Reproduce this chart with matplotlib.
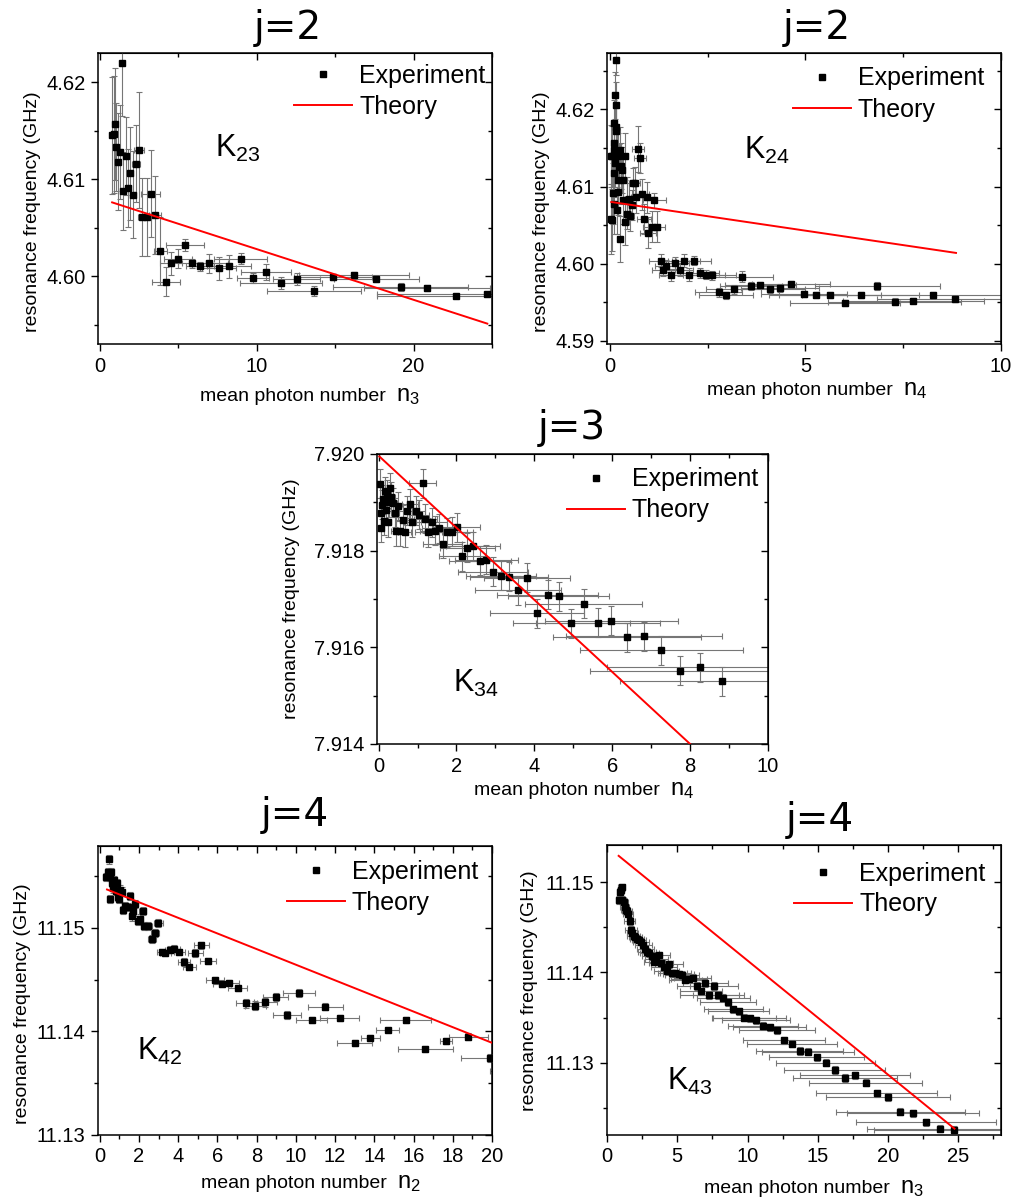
import matplotlib
matplotlib.use('Agg')
import matplotlib.pyplot as plt
from matplotlib.ticker import MultipleLocator, FormatStrFormatter
from matplotlib.lines import Line2D

plt.rcParams['font.family'] = ['Liberation Sans', 'DejaVu Sans']
plt.rcParams['mathtext.fontset'] = 'custom'
plt.rcParams['mathtext.rm'] = 'Liberation Sans'

W, H = 1015, 1201

# ---- K23 : j=2 vs n3 ----
n23 = [0.81, 0.91, 0.98, 1.06, 1.19, 1.28, 1.40, 1.49, 1.66, 1.79, 1.96, 2.15, 2.32, 2.51,
       2.72, 3.00, 3.26, 3.53, 3.87, 4.21, 4.57, 5.00, 5.43, 5.89, 6.40, 6.98, 7.60, 8.26,
       8.98, 9.77, 10.62, 11.55, 12.57, 13.68, 14.87, 16.19, 17.62, 19.19, 20.85, 22.68, 24.68]
f23 = [4.6145, 4.6146, 4.6157, 4.6133, 4.6118, 4.6128, 4.6220, 4.6088, 4.6124, 4.6091,
       4.6106, 4.6084, 4.6116, 4.6130, 4.6061, 4.6061, 4.6085, 4.6063, 4.6026, 4.5994,
       4.6013, 4.6018, 4.6032, 4.6013, 4.6010, 4.6013, 4.6008, 4.6010, 4.6018, 4.5998,
       4.6004, 4.5993, 4.5997, 4.5985, 4.5999, 4.6001, 4.5997, 4.5989, 4.5988, 4.5979, 4.5982]
dn23 = [0.05, 0.05, 0.06, 0.07, 0.08, 0.1, 0.1, 0.1, 0.15, 0.2, 0.2, 0.2, 0.25, 0.3, 0.3,
        0.3, 0.6, 0.4, 0.4, 0.9, 0.7, 0.9, 1.2, 0.9, 0.9, 1.2, 1.1, 1.4, 1.7, 1.0, 1.6, 2.6,
        1.5, 3.0, 2.5, 3.5, 2.7, 4.3, 4.0, 5.0, 7.0]
df23 = [0.0060, 0.0060, 0.0058, 0.0045, 0.0050, 0.0048, 0.0055, 0.0040, 0.0040, 0.0040,
        0.0048, 0.0045, 0.0040, 0.0060, 0.0040, 0.0040, 0.0045, 0.0040, 0.0035, 0.0015,
        0.0012, 0.0010, 0.0006, 0.0005, 0.0005, 0.0010, 0.0012, 0.0012, 0.0006, 0.0005,
        0.0008, 0.0006, 0.0006, 0.0005, 0.0003, 0.0003, 0.0003, 0.0004, 0.0003, 0.0002, 0.0002]
n23_th = [0.8, 24.7]
f23_th = [4.6076, 4.5951]

# ---- K24 : j=2 vs n4 ----
n24 = [0.03, 0.04, 0.07, 0.07, 0.09, 0.10, 0.11, 0.11, 0.12, 0.12, 0.13, 0.13, 0.15, 0.15,
       0.16, 0.17, 0.19, 0.19, 0.21, 0.22, 0.22, 0.24, 0.26, 0.26, 0.30, 0.32, 0.33, 0.34,
       0.38, 0.40, 0.43, 0.45, 0.49, 0.51, 0.56, 0.60, 0.64, 0.68, 0.73, 0.77, 0.83, 0.88,
       0.94, 0.98, 1.07, 1.14, 1.20, 1.30, 1.37, 1.45, 1.56, 1.67, 1.79, 1.90, 2.03, 2.15,
       2.30, 2.45, 2.62, 2.79, 2.97, 3.17, 3.38, 3.61, 3.85, 4.09, 4.36, 4.64, 4.96, 5.28,
       5.63, 6.01, 6.41, 6.84, 7.28, 7.76, 8.27, 8.82]
f24 = [4.6058, 4.6140, 4.6057, 4.6139, 4.6091, 4.6078, 4.6147, 4.6182, 4.6117, 4.6156,
       4.6218, 4.6130, 4.6264, 4.6206, 4.6177, 4.6172, 4.6145, 4.6069, 4.6093, 4.6139,
       4.6108, 4.6125, 4.6147, 4.6032, 4.6127, 4.6121, 4.6082, 4.6108, 4.6139, 4.6054,
       4.6082, 4.6065, 4.6084, 4.6062, 4.6076, 4.6104, 4.6105, 4.6086, 4.6149, 4.6137,
       4.6090, 4.6058, 4.6086, 4.6040, 4.6048, 4.6082, 4.6048, 4.6004, 4.5992, 4.5997,
       4.5985, 4.6001, 4.5992, 4.6004, 4.5986, 4.6004, 4.5988, 4.5986, 4.5985, 4.5963,
       4.5959, 4.5967, 4.5983, 4.5971, 4.5972, 4.5967, 4.5969, 4.5974, 4.5961, 4.5960,
       4.5959, 4.5949, 4.5960, 4.5971, 4.5951, 4.5952, 4.5960, 4.5954]
dn24 = [0.02, 0.02, 0.02, 0.02, 0.03, 0.03, 0.03, 0.03, 0.03, 0.03, 0.03, 0.03, 0.03, 0.03,
        0.03, 0.04, 0.04, 0.04, 0.04, 0.04, 0.04, 0.05, 0.05, 0.05, 0.06, 0.06, 0.07, 0.07,
        0.08, 0.08, 0.09, 0.09, 0.10, 0.10, 0.11, 0.12, 0.13, 0.14, 0.15, 0.16, 0.17, 0.18,
        0.19, 0.20, 0.21, 0.30, 0.20, 0.30, 0.30, 0.30, 0.30, 0.35, 0.35, 0.40, 0.45, 0.45,
        0.50, 0.50, 0.60, 0.60, 0.70, 0.70, 0.80, 0.80, 0.90, 0.90, 1.0, 1.0, 1.1, 1.2,
        1.3, 1.4, 1.5, 1.6, 1.7, 1.8, 1.9, 2.0]
df24 = [0.0045, 0.0040, 0.0040, 0.0040, 0.0040, 0.0040, 0.0030, 0.0030, 0.0030, 0.0030,
        0.0030, 0.0030, 0.0020, 0.0030, 0.0030, 0.0030, 0.0030, 0.0030, 0.0030, 0.0030,
        0.0030, 0.0030, 0.0030, 0.0030, 0.0030, 0.0030, 0.0030, 0.0030, 0.0030, 0.0030,
        0.0030, 0.0020, 0.0020, 0.0020, 0.0020, 0.0020, 0.0020, 0.0020, 0.0030, 0.0020,
        0.0020, 0.0020, 0.0020, 0.0020, 0.0020, 0.0010, 0.0020, 0.0008, 0.0008, 0.0008,
        0.0008, 0.0008, 0.0008, 0.0008, 0.0008, 0.0006, 0.0006, 0.0006, 0.0006, 0.0006,
        0.0005, 0.0006, 0.0007, 0.0005, 0.0004, 0.0005, 0.0005, 0.0004, 0.0004, 0.0004,
        0.0004, 0.0004, 0.0004, 0.0005, 0.0004, 0.0003, 0.0004, 0.0004]
n24_th = [0.04, 8.85]
f24_th = [4.6080, 4.6014]

# ---- K34 : j=3 vs n4 ----
n34 = [0.03, 0.05, 0.06, 0.09, 0.12, 0.14, 0.16, 0.19, 0.21, 0.25, 0.27, 0.29, 0.33, 0.38,
       0.42, 0.45, 0.51, 0.55, 0.62, 0.67, 0.72, 0.81, 0.87, 0.95, 1.04, 1.13, 1.20, 1.28,
       1.37, 1.46, 1.56, 1.65, 1.77, 1.88, 2.01, 2.14, 2.28, 2.43, 2.60, 2.77, 2.95, 3.15,
       3.36, 3.58, 3.81, 4.07, 4.34, 4.63, 4.95, 5.27, 5.63, 5.98, 6.38, 6.81, 7.26, 7.74,
       8.26, 8.81]
f34 = [7.91938, 7.91847, 7.91878, 7.91895, 7.91906, 7.91862, 7.91923, 7.91885, 7.91916,
       7.91859, 7.91900, 7.91930, 7.91912, 7.91899, 7.91878, 7.91840, 7.91892, 7.91840,
       7.91864, 7.91838, 7.91883, 7.91897, 7.91859, 7.91883, 7.91874, 7.91939, 7.91866,
       7.91838, 7.91859, 7.91841, 7.91846, 7.91814, 7.91838, 7.91839, 7.91848, 7.91788,
       7.91806, 7.91809, 7.91779, 7.91781, 7.91756, 7.91748, 7.91746, 7.91718, 7.91744,
       7.91671, 7.91709, 7.91706, 7.91650, 7.91690, 7.91651, 7.91655, 7.91621, 7.91623,
       7.91594, 7.91552, 7.91559, 7.91530]
dn34 = [0.02, 0.02, 0.03, 0.03, 0.04, 0.04, 0.05, 0.05, 0.06, 0.07, 0.07, 0.08, 0.09, 0.10,
        0.11, 0.12, 0.13, 0.14, 0.16, 0.17, 0.19, 0.21, 0.22, 0.24, 0.26, 0.35, 0.30, 0.35,
        0.40, 0.40, 0.45, 0.50, 0.50, 0.55, 0.60, 0.60, 0.70, 0.70, 0.80, 0.80, 0.90, 0.90,
        1.0, 1.1, 1.1, 1.2, 1.3, 1.3, 1.5, 1.5, 1.6, 1.7, 1.9, 2.0, 2.1, 2.3, 2.4, 2.6]
df34 = [0.0003] * 58
n34_th = [0.02, 8.0]
f34_th = [7.91995, 7.914]

# ---- K42 : j=4 vs n2 ----
n42 = [0.34, 0.44, 0.49, 0.53, 0.54, 0.58, 0.61, 0.68, 0.75, 0.82, 0.88, 0.93, 0.99, 1.05,
       1.14, 1.21, 1.29, 1.43, 1.53, 1.63, 1.70, 1.82, 1.94, 2.06, 2.18, 2.28, 2.46, 2.65,
       2.82, 2.99, 3.19, 3.35, 3.59, 3.79, 4.06, 4.30, 4.57, 4.88, 5.18, 5.51, 5.86, 6.22,
       6.61, 7.03, 7.48, 7.94, 8.45, 8.97, 9.55, 10.16, 10.81, 11.50, 12.23, 13.00, 13.80,
       14.68, 15.60, 16.60, 17.65, 18.79, 19.92, 20.90]
f42 = [11.1549, 11.1554, 11.1566, 11.1528, 11.1549, 11.1554, 11.1543, 11.1538, 11.1546,
       11.1536, 11.1543, 11.1530, 11.1528, 11.1537, 11.1535, 11.1517, 11.1521, 11.1520,
       11.1531, 11.1511, 11.1516, 11.1523, 11.1507, 11.1509, 11.1516, 11.1502, 11.1502,
       11.1489, 11.1495, 11.1505, 11.1477, 11.1476, 11.1479, 11.1480, 11.1477, 11.1467,
       11.1462, 11.1476, 11.1483, 11.1468, 11.1450, 11.1446, 11.1447, 11.1442, 11.1427,
       11.1425, 11.1428, 11.1433, 11.1416, 11.1437, 11.1411, 11.1424, 11.1413, 11.1389,
       11.1394, 11.1401, 11.1411, 11.1383, 11.1391, 11.1395, 11.1374, 11.1362]
dn42 = [0.05, 0.05, 0.05, 0.05, 0.05, 0.06, 0.06, 0.06, 0.07, 0.07, 0.08, 0.08, 0.08, 0.09,
        0.10, 0.10, 0.11, 0.12, 0.13, 0.13, 0.14, 0.15, 0.16, 0.17, 0.18, 0.18, 0.20, 0.20,
        0.22, 0.23, 0.25, 0.26, 0.28, 0.30, 0.30, 0.32, 0.35, 0.37, 0.40, 0.40, 0.45, 0.45,
        0.50, 0.50, 0.55, 0.55, 0.60, 0.65, 0.70, 0.80, 0.80, 0.90, 1.0, 0.9, 0.5, 0.6,
        1.3, 1.4, 0.3, 1.0, 1.5, 1.0]
df42 = [0.0004, 0.0004, 0.0004, 0.0004, 0.0004, 0.0004, 0.0004, 0.0004, 0.0004, 0.0004,
        0.0004, 0.0004, 0.0004, 0.0004, 0.0004, 0.0004, 0.0004, 0.0004, 0.0004, 0.0004,
        0.0004, 0.0004, 0.0004, 0.0004, 0.0004, 0.0004, 0.0004, 0.0004, 0.0004, 0.0004,
        0.0003, 0.0003, 0.0003, 0.0003, 0.0003, 0.0004, 0.0003, 0.0004, 0.0003, 0.0003,
        0.0003, 0.0003, 0.0003, 0.0003, 0.0004, 0.0004, 0.0004, 0.0004, 0.0004, 0.0004,
        0.0003, 0.0003, 0.0003, 0.0003, 0.0003, 0.0002, 0.0003, 0.0003, 0.0003, 0.0003,
        0.0004, 0.0002]
n42_th = [0.37, 20.0]
f42_th = [11.1537, 11.1389]

# ---- K43 : j=4 vs n3 ----
n43 = [0.83, 0.90, 0.97, 1.05, 1.09, 1.19, 1.26, 1.33, 1.43, 1.52, 1.62, 1.71, 1.81, 1.90,
       2.02, 2.14, 2.28, 2.42, 2.57, 2.71, 2.85, 3.02, 3.18, 3.35, 3.52, 3.71, 3.87, 4.06,
       4.25, 4.44, 4.66, 4.87, 5.11, 5.34, 5.58, 5.84, 6.10, 6.39, 6.67, 6.98, 7.29, 7.60,
       7.93, 8.27, 8.62, 8.98, 9.36, 9.76, 10.17, 10.59, 11.09, 11.57, 12.07, 12.59, 13.14,
       13.71, 14.30, 14.92, 15.56, 16.22, 16.94, 17.65, 18.41, 19.19, 20.00, 20.88, 21.78,
       22.71, 23.68, 24.68]
f43 = [11.1480, 11.1489, 11.1491, 11.1494, 11.1480, 11.1478, 11.1472, 11.1469, 11.1468,
       11.1465, 11.1457, 11.1447, 11.1444, 11.1440, 11.1439, 11.1437, 11.1436, 11.1434,
       11.1430, 11.1426, 11.1423, 11.1421, 11.1418, 11.1412, 11.1415, 11.1419, 11.1410,
       11.1406, 11.1402, 11.1409, 11.1399, 11.1399, 11.1398, 11.1397, 11.1392, 11.1393,
       11.1394, 11.1385, 11.1379, 11.1388, 11.1375, 11.1385, 11.1375, 11.1372, 11.1367,
       11.1359, 11.1357, 11.1350, 11.1349, 11.1347, 11.1341, 11.1339, 11.1336, 11.1325,
       11.1321, 11.1313, 11.1312, 11.1306, 11.1300, 11.1292, 11.1283, 11.1286, 11.1278,
       11.1266, 11.1262, 11.1246, 11.1244, 11.1234, 11.1227, 11.1226]
dn43 = [0.2, 0.2, 0.2, 0.25, 0.25, 0.3, 0.3, 0.3, 0.35, 0.35, 0.4, 0.4, 0.4, 0.45, 0.45, 0.5,
        0.5, 0.55, 0.6, 0.6, 0.65, 0.7, 0.7, 0.75, 0.8, 0.8, 0.85, 0.9, 0.9, 1.0, 1.0, 1.1,
        1.1, 1.2, 1.2, 1.3, 1.3, 1.4, 1.5, 1.6, 2.1, 1.7, 1.8, 1.9, 2.0, 2.1, 2.2, 2.3, 2.6,
        2.4, 2.5, 2.6, 2.7, 2.9, 3.2, 3.1, 3.3, 3.4, 3.5, 3.6, 3.7, 3.9, 4.0, 4.3, 4.4, 4.6,
        4.7, 5.0, 5.2, 5.7]
df43 = [0.0004] * 70
n43_th = [0.83, 24.73]
f43_th = [11.1529, 11.1227]


fig = plt.figure(figsize=(W / 100, H / 100), dpi=100)


def place(left, top, right, bottom):
    return fig.add_axes([left / W, 1 - bottom / H, (right - left) / W, (bottom - top) / H])


def panel(box, n, f, dn, df, n_th, f_th, xlim, ylim, xstep, ystep, yfmt):
    ax = place(*box)
    ax.errorbar(n, f, xerr=dn, yerr=df, fmt='none', ecolor='#767676',
                elinewidth=0.8, capsize=2.5, capthick=0.8, zorder=2)
    ax.plot(n, f, 's', color='black', ms=4.8, zorder=3)
    ax.plot(n_th, f_th, color='red', lw=1.4, zorder=4)
    ax.set_xlim(*xlim)
    ax.set_ylim(*ylim)
    ax.xaxis.set_major_locator(MultipleLocator(xstep))
    ax.xaxis.set_minor_locator(MultipleLocator(xstep / 2))
    ax.yaxis.set_major_locator(MultipleLocator(ystep))
    ax.yaxis.set_minor_locator(MultipleLocator(ystep / 2))
    ax.xaxis.set_major_formatter(FormatStrFormatter('%d'))
    ax.yaxis.set_major_formatter(FormatStrFormatter(yfmt))
    ax.tick_params(which='both', direction='out', labelsize=14.5, width=1, pad=4)
    ax.tick_params(which='major', length=5)
    ax.tick_params(which='minor', length=3)
    for s in ax.spines.values():
        s.set_linewidth(1.1)
    # mirrored ticks on top and right point inwards
    top = ax.secondary_xaxis('top')
    top.xaxis.set_major_locator(MultipleLocator(xstep))
    top.xaxis.set_minor_locator(MultipleLocator(xstep / 2))
    top.tick_params(which='both', direction='in', labeltop=False, width=1)
    top.tick_params(which='major', length=5)
    top.tick_params(which='minor', length=3)
    right = ax.secondary_yaxis('right')
    right.yaxis.set_major_locator(MultipleLocator(ystep))
    right.yaxis.set_minor_locator(MultipleLocator(ystep / 2))
    right.tick_params(which='both', direction='in', labelright=False, width=1)
    right.tick_params(which='major', length=5)
    right.tick_params(which='minor', length=3)
    return ax


def px(x, y):
    return x / W, 1 - y / H


def decorate(title, title_xy, ylab_xy, xlab_xy, sub, key_xy, kname, leg_xy):
    fig.text(*px(*title_xy), title, ha='center', va='center', fontsize=28,
             family='DejaVu Sans')
    fig.text(*px(*ylab_xy), 'resonance frequency (GHz)', rotation=90,
             ha='center', va='center', fontsize=14)
    fig.text(*px(*xlab_xy), 'mean photon number', ha='right', va='baseline', fontsize=14)
    fig.text(*px(xlab_xy[0] + 10, xlab_xy[1]), r'$\mathregular{n_%s}$' % sub,
             ha='left', va='baseline', fontsize=17)
    fig.text(*px(*key_xy), r'$\mathregular{K_{%s}}$' % kname, ha='left', va='baseline',
             fontsize=22)
    handles = [Line2D([], [], ls='none', marker='s', color='black', ms=5),
               Line2D([], [], color='red', lw=1.4)]
    fig.legend(handles, ['Experiment', 'Theory'], loc='center left',
               bbox_to_anchor=px(*leg_xy), frameon=False, fontsize=18,
               handlelength=2.3, handletextpad=0.3, borderpad=0, borderaxespad=0,
               labelspacing=0.28)


panel((98, 53, 492, 344), n23, f23, dn23, df23, n23_th, f23_th,
      (-0.1, 25.0), (4.593, 4.623), 10, 0.01, '%.2f')
decorate('j=2', (288, 28), (33, 212), (386, 401), '3', (215, 157), '23', (294, 91.5))

panel((607, 53, 1001, 344), n24, f24, dn24, df24, n24_th, f24_th,
      (-0.07, 10.0), (4.5896, 4.6273), 5, 0.01, '%.2f')
decorate('j=2', (817, 28), (542, 212), (893, 395), '4', (744, 159), '24', (793, 94))

panel((377, 454, 768, 744), n34, f34, dn34, df34, n34_th, f34_th,
      (-0.04, 10.0), (7.914, 7.920), 2, 0.002, '%.3f')
decorate('j=3', (572, 428), (292, 599), (660, 795), '4', (453, 692), '34', (567, 495))

panel((98, 846, 492, 1135), n42, f42, dn42, df42, n42_th, f42_th,
      (-0.09, 20.0), (11.13, 11.1579), 2, 0.01, '%.2f')
decorate('j=4', (295, 815), (23, 1004), (387, 1188), '2', (137, 1060), '42', (287, 887.5))

panel((607, 845, 1001, 1135), n43, f43, dn43, df43, n43_th, f43_th,
      (0.0, 28.04), (11.122, 11.1541), 5, 0.01, '%.2f')
decorate('j=4', (820, 820), (530, 991), (890, 1193), '3', (667, 1090), '43', (794, 889))

fig.savefig('out.png', dpi=100)
